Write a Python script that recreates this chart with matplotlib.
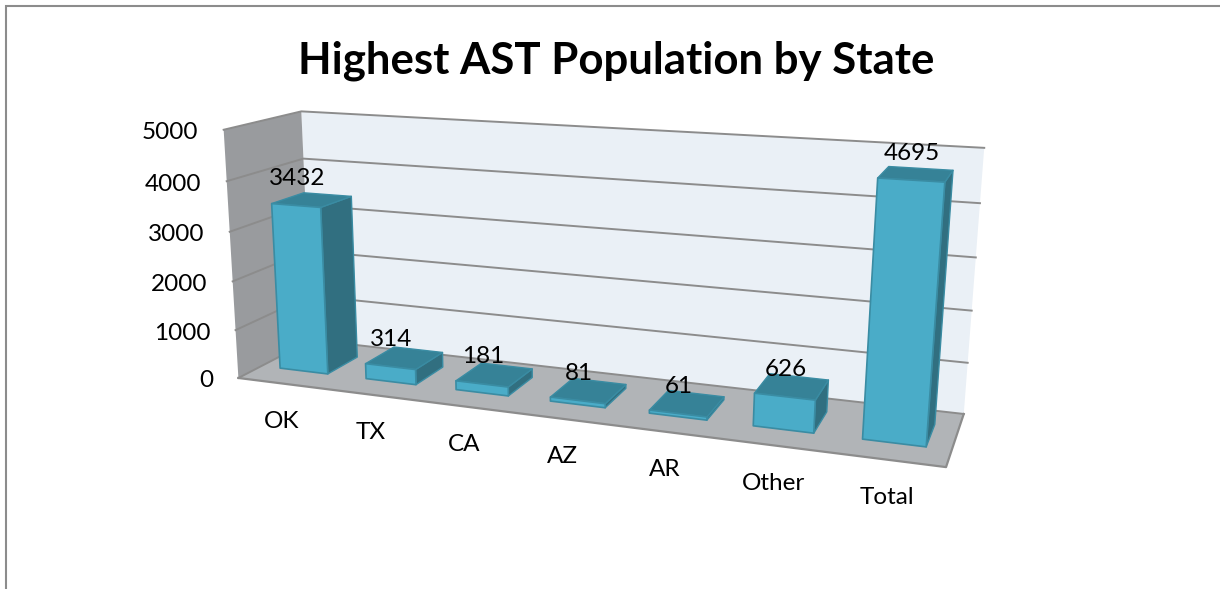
import numpy as np
import matplotlib
matplotlib.use("Agg")
import matplotlib.pyplot as plt
from matplotlib.patches import Polygon

# ---- data ----
categories = ["OK", "TX", "CA", "AZ", "AR", "Other", "Total"]
values = [3432, 314, 181, 81, 61, 626, 4695]
y_ticks = [0, 1000, 2000, 3000, 4000, 5000]
title = "Highest AST Population by State"

# ---- styling ----
C_WALL = "#EAF0F6"; C_SIDEWALL = "#999B9E"; C_FLOOR = "#B1B4B7"
C_GRID = "#8C8C8C"; C_FRONT = "#4AACC8"; C_SIDE = "#316F80"
C_TOP = "#368297"; C_EDGE = "#3A8CA3"
FONT = "Lato"

# ---- camera: fit a 3D->2D projection to the chart box corners ----
N = len(categories); YMAX = y_ticks[-1]
calib = [((0, 0, 0), (240, 377)), ((0, YMAX, 0), (222, 130)),
         ((0, 0, 1), (310, 341)), ((0, YMAX, 1), (303, 111)),
         ((N, 0, 1), (964, 413)), ((N, YMAX, 1), (984, 148)),
         ((N, 0, 0), (946, 468))]
A, b = [], []
for (x, y, z), (u, v) in calib:
    y = y / YMAX
    A.append([x, y, z, 1, 0, 0, 0, 0, -u*x, -u*y, -u*z]); b.append(u)
    A.append([0, 0, 0, 0, x, y, z, 1, -v*x, -v*y, -v*z]); b.append(v)
m = np.linalg.lstsq(np.array(A, float), np.array(b, float), rcond=None)[0]
M = np.append(m, 1).reshape(3, 4)

def P(x, y, z):
    h = M @ np.array([x, y / YMAX, z, 1.0])
    return h[0] / h[2], h[1] / h[2]

fig = plt.figure(figsize=(12.2, 5.89), dpi=100, facecolor="white")
ax = fig.add_axes([0, 0, 1, 1])
ax.set_xlim(0, 1220); ax.set_ylim(589, 0); ax.axis("off")

def face(pts, fc, ec="none", lw=0, z=1):
    ax.add_patch(Polygon([P(*p) for p in pts], closed=True, fc=fc, ec=ec, lw=lw, zorder=z, joinstyle="round"))

# chart-area frame
ax.plot([5.5, 5.5, 1220], [589, 5.5, 5.5], color="#8C8C8C", lw=1.5, zorder=0, solid_joinstyle="miter")

# walls and floor
face([(0, 0, 1), (N, 0, 1), (N, YMAX, 1), (0, YMAX, 1)], C_WALL, z=1)
face([(0, 0, 0), (0, 0, 1), (0, YMAX, 1), (0, YMAX, 0)], C_SIDEWALL, z=1)
face([(0, 0, 0), (N, 0, 0), (N, 0, 1), (0, 0, 1)], C_FLOOR, z=1)

# gridlines
for t in y_ticks:
    pts = [P(0, t, 0), P(0, t, 1)] + ([P(N, t, 1)])
    ax.plot(*zip(*pts), color=C_GRID, lw=1.4, zorder=2)
ax.plot(*zip(P(0, 0, 0), P(N, 0, 0), P(N, 0, 1)), color=C_GRID, lw=1.6, zorder=2)

# bars
ZF, ZB, HW = 0.3, 0.73, 0.28
for i, v in enumerate(values):
    x0, x1 = i + 0.5 - HW, i + 0.5 + HW
    face([(x1, 0, ZF), (x1, 0, ZB), (x1, v, ZB), (x1, v, ZF)], C_SIDE, C_EDGE, 1, 3 + i)
    face([(x0, v, ZF), (x1, v, ZF), (x1, v, ZB), (x0, v, ZB)], C_TOP, C_EDGE, 1, 3 + i)
    face([(x0, 0, ZF), (x1, 0, ZF), (x1, v, ZF), (x0, v, ZF)], C_FRONT, C_EDGE, 1.2, 3 + i)

# texts
ax.text(616, 61, title, ha="center", va="center", family=FONT, weight="bold", fontsize=31.5, color="black", zorder=30)
TS = 17.5
for t in y_ticks:
    u, w = P(0, t, 0)
    ax.text(u - 25, w + 3, str(t), ha="right", va="center", family=FONT, fontsize=TS, color="black", zorder=30)
for i, c in enumerate(categories):
    u, w = P(i + 0.5, 0, 0.0)
    ax.text(u + 0.5, w + 38, c, ha="center", va="center", family=FONT, fontsize=TS, color="black", zorder=30)
for i, v in enumerate(values):
    u, w = P(i + 0.5, v, 0.3)
    ax.text(u + 1, w - 27, str(v), ha="center", va="center", family=FONT, fontsize=TS, color="black", zorder=30)

fig.savefig("out.png", dpi=100, facecolor="white")
